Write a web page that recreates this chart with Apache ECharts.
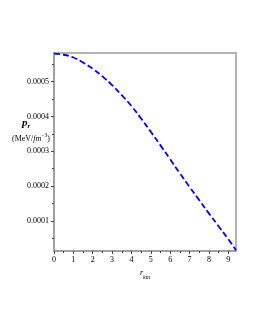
<!DOCTYPE html>
<html><head><meta charset="utf-8">
<script src="https://cdn.jsdelivr.net/npm/echarts@6/dist/echarts.min.js"></script>
<style>html,body{margin:0;padding:0;background:#fff}#c{width:255px;height:330px}</style>
</head><body><div id="c"></div>
<script>
var rKm = [0, 0.5, 1.0, 1.5, 2.0, 2.5, 3.0, 3.5, 4.0, 4.5, 5.0, 5.5, 6.0, 6.5, 7.0, 7.5, 8.0, 8.5, 9.0, 9.4];
var pR = [0.000580, 0.000577, 0.000569, 0.000555, 0.000537, 0.000515, 0.000490, 0.000461, 0.000430, 0.000394,
          0.000356, 0.000317, 0.000277, 0.000237, 0.000198, 0.000160, 0.000122, 0.000085, 0.000048, 0.000016];
var xTicks = [0, 1, 2, 3, 4, 5, 6, 7, 8, 9];
var xMinor = [0.5, 1.5, 2.5, 3.5, 4.5, 5.5, 6.5, 7.5, 8.5];
var yTicks = [0.0001, 0.0002, 0.0003, 0.0004, 0.0005];
var yMinor = [0.00005, 0.00015, 0.00025, 0.00035, 0.00045, 0.00055];
var xRange = [0, 9.4];
var yRange = [0.000014, 0.000582];

var serif = 'Liberation Serif';
var axisGray = '#9a9a9a';
var chart = echarts.init(document.getElementById('c'), null, {renderer: 'canvas'});
var data = rKm.map(function (r, i) { return [r, pR[i]]; });
chart.setOption({
  animation: false,
  grid: {left: 54, right: 19, top: 53, bottom: 79, show: true, borderColor: axisGray, borderWidth: 1.5},
  xAxis: [{
    type: 'value', min: xRange[0], max: xRange[1], gridIndex: 0,
    axisLine: {show: true, lineStyle: {color: axisGray, width: 1.5}},
    axisTick: {show: true, length: 3, customValues: xTicks, lineStyle: {color: '#444'}},
    axisLabel: {customValues: xTicks, fontFamily: serif, fontSize: 8, color: '#000', margin: 5},
    splitLine: {show: false},
    name: '{r|r}{s|km}', nameLocation: 'middle', nameGap: 12,
    nameTextStyle: {rich: {
      r: {fontFamily: serif, fontStyle: 'italic', fontSize: 8, color: '#000', padding: [0, 0, 4, 0]},
      s: {fontFamily: serif, fontStyle: 'italic', fontSize: 6, color: '#000', padding: [5, 0, 0, 0]}
    }}
  }, {
    type: 'value', min: xRange[0], max: xRange[1], gridIndex: 0, position: 'bottom',
    axisLine: {show: false},
    axisTick: {show: true, length: 2, customValues: xMinor, lineStyle: {color: '#444'}},
    axisLabel: {show: false}, splitLine: {show: false}
  }],
  yAxis: [{
    type: 'value', min: yRange[0], max: yRange[1],
    axisLine: {show: true, lineStyle: {color: axisGray, width: 1.5}},
    axisTick: {show: true, length: 3, customValues: yTicks, lineStyle: {color: '#444'}},
    axisLabel: {customValues: yTicks, fontFamily: serif, fontSize: 8, color: '#000', margin: 5,
      formatter: function (v) { return v.toFixed(4); }},
    splitLine: {show: false}
  }, {
    type: 'value', min: yRange[0], max: yRange[1], position: 'left',
    axisLine: {show: false},
    axisTick: {show: true, length: 2, customValues: yMinor, lineStyle: {color: '#444'}},
    axisLabel: {show: false}, splitLine: {show: false}
  }],
  graphic: [{
    type: 'text', left: 22, top: 118,
    style: {text: '{p|p}{s|r}', rich: {
      p: {fontFamily: serif, fontStyle: 'italic', fontWeight: 'bold', fontSize: 11, fill: '#000'},
      s: {fontFamily: serif, fontStyle: 'italic', fontWeight: 'bold', fontSize: 7, fill: '#000', padding: [5, 0, 0, 0]}
    }}
  }, {
    type: 'text', left: 12, top: 133,
    style: {text: '{a|(MeV/}{b|fm}{c|−3}{a|)}', rich: {
      a: {fontFamily: serif, fontSize: 8, fill: '#000'},
      b: {fontFamily: serif, fontStyle: 'italic', fontSize: 8, fill: '#000'},
      c: {fontFamily: serif, fontSize: 5.5, fill: '#000', padding: [0, 0, 5, 0]}
    }}
  }],
  series: [{
    type: 'line', data: data, smooth: 0.4, showSymbol: false, xAxisIndex: 0, yAxisIndex: 0,
    lineStyle: {color: '#0000ff', width: 1.8, type: [6, 3]}
  }]
});
</script></body></html>
